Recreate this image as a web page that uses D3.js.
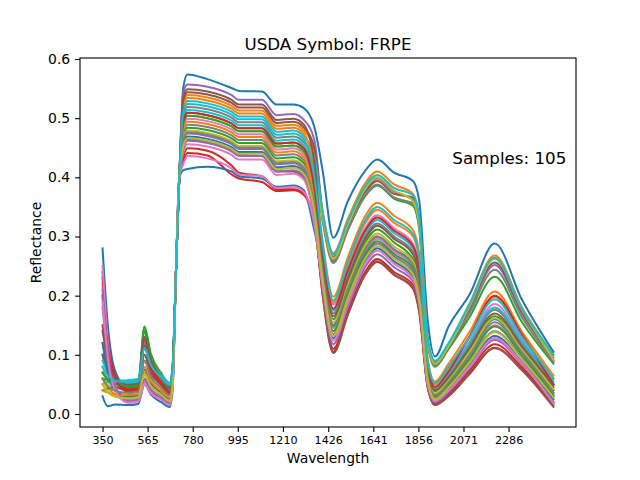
<!DOCTYPE html>
<html>
<head>
<meta charset="utf-8">
<script src="https://cdn.jsdelivr.net/npm/d3@7"></script>
<style>
  body { margin: 0; background: #fff; }
  svg { display: block; font-family: "DejaVu Sans", sans-serif; }
</style>
</head>
<body>
<svg id="chart" width="640" height="480"></svg>
<script>
// wavelength of every point in a sample (nm)
var wavelengths = [350, 375, 410, 470, 520, 550, 580, 630, 670, 684, 700, 716, 735, 755, 850, 965, 1000, 1110, 1180, 1260, 1310, 1360, 1400, 1450, 1520, 1600, 1660, 1740, 1830, 1860, 1900, 1935, 2000, 2100, 2220, 2350, 2500];

// reflectance, one array per drawn sample
var sample00 = [.280, .151, .073, .045, .047, .090, .068, .052, .041, .070, .240, .400, .552, .574, .566, .551, .546, .545, .523, .523, .517, .485, .410, .298, .360, .410, .430, .408, .394, .360, .160, .097, .148, .202, .288, .193, .105];
var sample01 = [.120, .082, .058, .050, .052, .120, .085, .061, .046, .075, .240, .400, .525, .539, .535, .521, .513, .513, .487, .489, .479, .445, .342, .272, .330, .389, .410, .388, .372, .332, .128, .088, .118, .187, .268, .180, .100];
var sample02 = [.060, .057, .056, .055, .057, .148, .102, .069, .051, .080, .240, .400, .495, .509, .505, .491, .483, .483, .457, .459, .449, .415, .328, .258, .312, .367, .386, .364, .352, .312, .120, .080, .110, .164, .232, .155, .085];
var sample03 = [.240, .129, .062, .038, .040, .120, .079, .050, .034, .063, .240, .400, .427, .441, .437, .405, .398, .392, .377, .378, .370, .320, .210, .110, .174, .239, .262, .240, .218, .178, .048, .018, .034, .073, .118, .079, .020];
var sample04 = [.200, .112, .059, .040, .042, .100, .070, .049, .036, .065, .240, .400, .543, .557, .553, .539, .531, .531, .505, .507, .497, .463, .336, .266, .321, .378, .398, .376, .362, .322, .124, .084, .114, .176, .252, .169, .095];
var sample05 = [.150, .094, .060, .048, .050, .130, .089, .060, .044, .073, .240, .400, .530, .544, .540, .526, .518, .518, .492, .494, .484, .450, .332, .262, .317, .374, .394, .372, .366, .326, .126, .086, .116, .180, .256, .172, .090];
var sample06 = [.220, .111, .045, .021, .023, .055, .038, .026, .017, .046, .240, .400, .485, .499, .495, .481, .473, .473, .447, .449, .439, .375, .275, .185, .248, .313, .336, .314, .288, .248, .085, .045, .068, .123, .186, .125, .050];
var sample07 = [.100, .074, .058, .052, .054, .140, .096, .065, .048, .077, .240, .400, .505, .519, .515, .501, .493, .493, .467, .469, .459, .425, .325, .255, .311, .368, .388, .366, .356, .316, .122, .082, .112, .171, .244, .163, .088];
var sample08 = [.080, .055, .040, .035, .037, .090, .063, .043, .031, .060, .240, .400, .490, .504, .500, .486, .478, .478, .452, .454, .444, .410, .332, .262, .320, .379, .400, .378, .360, .320, .125, .085, .115, .182, .262, .176, .092];
var sample09 = [.050, .054, .056, .057, .059, .120, .089, .066, .053, .082, .240, .400, .515, .529, .525, .511, .503, .503, .477, .479, .469, .435, .340, .270, .326, .384, .404, .382, .370, .330, .130, .090, .120, .186, .264, .177, .100];
var sample10 = [.030, .013, .016, .015, .017, .050, .033, .020, .012, .040, .240, .398, .412, .414, .418, .410, .402, .398, .384, .386, .378, .310, .245, .150, .213, .278, .300, .278, .255, .215, .063, .033, .055, .103, .160, .107, .040];
var sample11 = [.060, .044, .034, .030, .032, .070, .050, .036, .026, .055, .240, .400, .520, .534, .530, .516, .508, .508, .482, .484, .474, .410, .290, .198, .265, .333, .357, .335, .311, .271, .095, .055, .085, .139, .207, .139, .065];
var sample12 = [.040, .043, .045, .045, .047, .145, .095, .060, .041, .070, .240, .400, .470, .484, .480, .466, .458, .458, .432, .434, .424, .360, .255, .160, .224, .289, .312, .290, .262, .222, .070, .038, .060, .108, .165, .111, .045];
var sample13 = [.230, .127, .065, .042, .044, .125, .084, .054, .038, .067, .240, .400, .435, .449, .445, .420, .408, .402, .380, .380, .372, .325, .200, .105, .169, .234, .257, .235, .212, .172, .045, .015, .030, .068, .112, .075, .015];
var sample14 = [.180, .095, .044, .025, .027, .060, .043, .030, .021, .050, .240, .400, .460, .474, .470, .456, .448, .448, .422, .424, .414, .350, .230, .135, .199, .265, .288, .266, .240, .200, .060, .027, .047, .089, .140, .094, .030];
var sample15 = [.100, .067, .047, .040, .042, .100, .070, .049, .036, .065, .240, .400, .450, .464, .460, .446, .438, .436, .410, .410, .398, .330, .200, .103, .168, .235, .258, .236, .214, .174, .046, .016, .031, .068, .111, .074, .012];
var sample16 = [.250, .124, .048, .020, .022, .052, .036, .025, .016, .045, .240, .400, .442, .456, .452, .438, .430, .430, .404, .406, .396, .332, .238, .145, .208, .273, .296, .274, .250, .210, .062, .030, .051, .096, .150, .101, .035];
var sample17 = [.070, .059, .052, .050, .052, .130, .090, .062, .046, .075, .240, .400, .475, .489, .485, .471, .463, .463, .437, .439, .429, .365, .265, .170, .234, .299, .322, .300, .274, .234, .077, .042, .065, .116, .176, .118, .050];
var sample18 = [.050, .038, .031, .028, .030, .065, .047, .034, .024, .053, .240, .400, .465, .479, .475, .461, .453, .453, .427, .429, .419, .355, .250, .155, .218, .283, .305, .283, .258, .218, .067, .035, .057, .105, .162, .109, .042];
var sample19 = [.090, .071, .059, .055, .057, .110, .083, .063, .051, .080, .240, .400, .500, .514, .510, .496, .488, .488, .462, .464, .454, .390, .272, .175, .239, .305, .328, .306, .280, .240, .080, .044, .068, .119, .180, .121, .055];
var sample20 = [.120, .071, .041, .030, .032, .075, .053, .037, .026, .055, .240, .400, .455, .469, .465, .451, .443, .443, .417, .419, .409, .345, .222, .128, .192, .257, .280, .258, .232, .192, .056, .024, .043, .083, .132, .088, .025];
var sample21 = [.040, .036, .033, .032, .034, .080, .056, .039, .028, .057, .240, .400, .480, .494, .490, .476, .468, .468, .442, .444, .434, .370, .280, .188, .254, .321, .345, .323, .300, .260, .088, .050, .078, .131, .198, .133, .060];
var sample22 = [.070, .057, .050, .047, .049, .138, .093, .061, .043, .072, .240, .400, .490, .504, .500, .486, .478, .478, .452, .454, .444, .380, .235, .140, .204, .269, .292, .270, .246, .206, .062, .029, .050, .094, .148, .099, .032];
var sample23 = [.200, .112, .059, .040, .042, .115, .078, .051, .036, .065, .240, .400, .495, .509, .505, .491, .483, .483, .457, .459, .449, .385, .270, .178, .243, .309, .332, .310, .284, .244, .082, .046, .072, .131, .200, .134, .050];
var sample24 = [.210, .107, .045, .022, .024, .058, .040, .027, .018, .047, .240, .400, .448, .462, .458, .444, .436, .436, .410, .412, .402, .338, .212, .118, .182, .247, .270, .248, .224, .184, .050, .020, .037, .078, .125, .084, .020];
var sample25 = [.140, .091, .061, .050, .052, .130, .090, .062, .046, .075, .240, .400, .535, .549, .545, .531, .523, .523, .497, .499, .489, .425, .260, .165, .229, .295, .318, .296, .270, .230, .074, .040, .062, .112, .170, .114, .048];
var sample26 = [.190, .096, .040, .019, .021, .050, .035, .024, .015, .044, .240, .400, .422, .436, .432, .415, .405, .402, .382, .384, .375, .320, .215, .124, .188, .253, .276, .254, .228, .188, .052, .022, .040, .080, .128, .086, .018];
var sample27 = [.060, .047, .039, .036, .038, .090, .063, .044, .032, .061, .240, .400, .462, .476, .472, .458, .450, .450, .424, .426, .416, .352, .240, .148, .212, .277, .300, .278, .252, .212, .064, .031, .053, .099, .155, .104, .036];
var sample28 = [.050, .037, .029, .026, .028, .068, .047, .032, .022, .051, .240, .400, .452, .466, .462, .448, .440, .440, .414, .416, .406, .342, .226, .132, .196, .261, .284, .262, .236, .196, .058, .025, .045, .087, .138, .092, .028];
var sample29 = [.080, .065, .056, .053, .055, .112, .083, .062, .049, .078, .240, .400, .510, .524, .520, .506, .498, .498, .472, .474, .464, .400, .285, .192, .258, .326, .350, .328, .304, .264, .090, .052, .080, .130, .194, .130, .060];

var samples = [sample00, sample01, sample02, sample03, sample04, sample05, sample06, sample07, sample08, sample09,
  sample10, sample11, sample12, sample13, sample14, sample15, sample16, sample17, sample18, sample19,
  sample20, sample21, sample22, sample23, sample24, sample25, sample26, sample27, sample28, sample29];

var xTickLabels = [350, 565, 780, 995, 1210, 1426, 1641, 1856, 2071, 2286];
var yTickLabels = [0.0, 0.1, 0.2, 0.3, 0.4, 0.5, 0.6];
var symbol = 'FRPE';
var sampleCount = 105;

var plot = { left: 80, right: 576, top: 58, bottom: 427 };
var colors = d3.schemeCategory10; // same as matplotlib tab10

var svg = d3.select('#chart');

// x limits: data extent plus 5% each side, like matplotlib
var xExtent = d3.extent(wavelengths),
  xPad = (xExtent[1] - xExtent[0]) * 0.05;
var x = d3.scaleLinear()
  .domain([xExtent[0] - xPad, xExtent[1] + xPad])
  .range([plot.left, plot.right]);

// y limits
var y = d3.scaleLinear()
  .domain([-0.022, 0.6017])
  .range([plot.bottom, plot.top]);

var line = d3.line()
  .x(function (d, i) { return x(wavelengths[i]); })
  .y(function (d) { return y(d); })
  .curve(d3.curveMonotoneX);

svg.append('g')
  .attr('class', 'samples')
  .selectAll('path')
  .data(samples)
  .enter()
  .append('path')
  .attr('d', line)
  .attr('fill', 'none')
  .attr('stroke', function (d, i) { return colors[i % colors.length]; })
  .attr('stroke-width', 2)
  .attr('stroke-linejoin', 'round')
  .attr('stroke-linecap', 'square');

// axes
var xAxis = d3.axisBottom(x)
  .tickValues(xTickLabels)
  .tickFormat(d3.format('d'))
  .tickSize(4.9)
  .tickPadding(4.2)
  .tickSizeOuter(0);

var yAxis = d3.axisLeft(y)
  .tickValues(yTickLabels)
  .tickFormat(d3.format('.1f'))
  .tickSize(4.9)
  .tickPadding(4.9)
  .tickSizeOuter(0);

var gx = svg.append('g')
  .attr('transform', 'translate(0,' + plot.bottom + ')')
  .call(xAxis);
gx.selectAll('text').attr('font-size', 11.1).attr('fill', '#000').attr('font-family', '"DejaVu Sans", sans-serif');

var gy = svg.append('g')
  .attr('transform', 'translate(' + plot.left + ',0)')
  .call(yAxis);
gy.selectAll('text').attr('font-size', 13.9).attr('fill', '#000').attr('font-family', '"DejaVu Sans", sans-serif');

svg.selectAll('.domain').remove();
svg.selectAll('.tick line').attr('stroke', '#000').attr('stroke-width', 1.1);

svg.append('rect')
  .attr('x', plot.left)
  .attr('y', plot.top)
  .attr('width', plot.right - plot.left)
  .attr('height', plot.bottom - plot.top)
  .attr('fill', 'none')
  .attr('stroke', '#000')
  .attr('stroke-width', 1.1);

// labels
svg.append('text')
  .attr('x', (plot.left + plot.right) / 2)
  .attr('y', 49.7)
  .attr('text-anchor', 'middle')
  .attr('font-size', 16.7)
  .text('USDA Symbol: ' + symbol);

svg.append('text')
  .attr('x', (plot.left + plot.right) / 2)
  .attr('y', 463)
  .attr('text-anchor', 'middle')
  .attr('font-size', 13.9)
  .text('Wavelength');

svg.append('text')
  .attr('transform', 'translate(41,' + ((plot.top + plot.bottom) / 2) + ') rotate(-90)')
  .attr('text-anchor', 'middle')
  .attr('font-size', 13.9)
  .text('Reflectance');

svg.append('text')
  .attr('x', 452.3)
  .attr('y', 164)
  .attr('font-size', 16.7)
  .text('Samples: ' + sampleCount);
</script>
</body>
</html>
